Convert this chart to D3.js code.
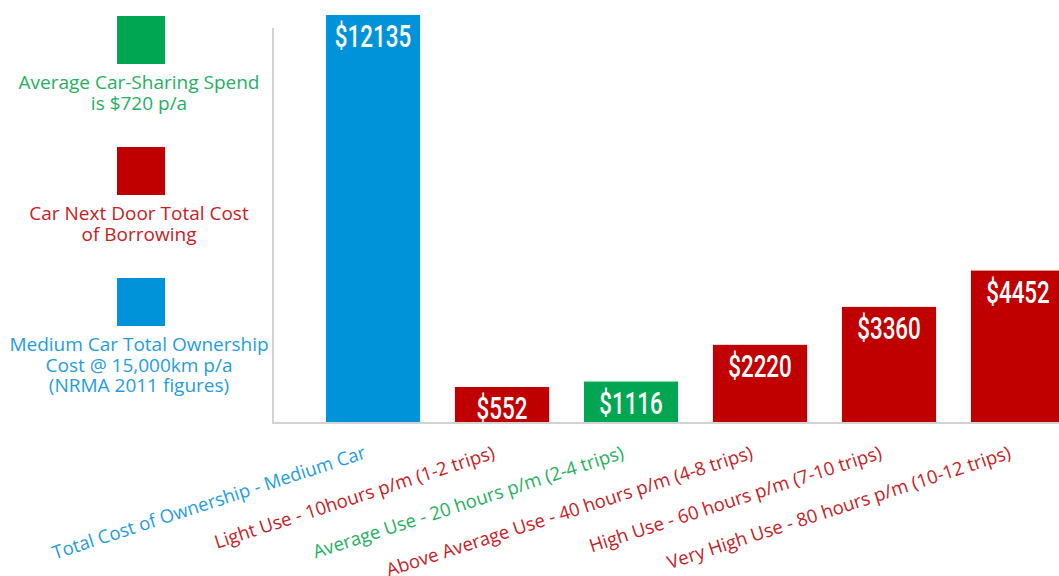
<!DOCTYPE html>
<html>
<head>
<meta charset="utf-8">
<script src="https://cdn.jsdelivr.net/npm/d3@7"></script>
<style>
  html, body { margin: 0; padding: 0; background: #fff; }
  svg { display: block; }
</style>
</head>
<body>
<svg id="chart" width="1059" height="576"></svg>
<script>
// Annual cost per scenario (AUD)
const categories = [
  "Total Cost of Ownership - Medium Car",
  "Light Use - 10hours p/m (1-2 trips)",
  "Average Use - 20 hours p/m (2-4 trips)",
  "Above Average Use - 40 hours p/m (4-8 trips)",
  "High Use - 60 hours p/m (7-10 trips)",
  "Very High Use - 80 hours p/m (10-12 trips)"
];
const costs = [12135, 552, 1116, 2220, 3360, 4452];
const groups = ["own", "cnd", "avg", "cnd", "cnd", "cnd"];

// Legend entries, top to bottom
const legendKeys = ["avg", "cnd", "own"];
const legendLines = [
  ["Average Car-Sharing Spend", "is $720 p/a"],
  ["Car Next Door Total Cost", "of Borrowing"],
  ["Medium Car Total Ownership", "Cost @ 15,000km p/a", "(NRMA 2011 figures)"]
];

const fill = { own: "#0093da", cnd: "#c00000", avg: "#00a651" };
const ink  = { own: "#1f9de0", cnd: "#c9201f", avg: "#25b060" };

const svg = d3.select("#chart");

const x = d3.scaleBand()
  .domain(categories)
  .range([308.5, 1082.5])
  .paddingInner(0.27)
  .paddingOuter(0.135);

const y = d3.scaleLinear()
  .domain([-100, 12135])
  .range([422, 15]);

const base = y(-100);
const minBarHeight = 35; // keeps room for the value label on small bars

// axis lines
svg.append("line")
  .attr("x1", 273).attr("x2", 273)
  .attr("y1", 28).attr("y2", base + 2)
  .attr("stroke", "#d2d2d2").attr("stroke-width", 2);
svg.append("line")
  .attr("x1", 272).attr("x2", 1059)
  .attr("y1", base + 1).attr("y2", base + 1)
  .attr("stroke", "#d2d2d2").attr("stroke-width", 2);

const data = categories.map((c, i) => ({ c, v: costs[i], g: groups[i] }));
const barTop = d => Math.min(y(d.v), base - minBarHeight);

svg.append("g").selectAll("rect")
  .data(data)
  .join("rect")
  .attr("x", d => x(d.c))
  .attr("width", x.bandwidth())
  .attr("y", barTop)
  .attr("height", d => base - barTop(d))
  .attr("fill", d => fill[d.g]);

// value labels inside the top of each bar, condensed
svg.append("g").selectAll("g")
  .data(data)
  .join("g")
  .attr("transform", d => `translate(${x(d.c) + x.bandwidth() / 2},${barTop(d) + 32}) scale(0.7,1)`)
  .append("text")
  .attr("text-anchor", "middle")
  .attr("font-family", "Roboto, sans-serif")
  .attr("font-weight", 500)
  .attr("font-size", 32)
  .attr("fill", "#fff")
  .text(d => "$" + d.v);

// rotated category labels
svg.append("g").selectAll("text")
  .data(data)
  .join("text")
  .attr("transform", d => `translate(${x(d.c) + x.bandwidth() / 2 - 6},458) rotate(-18)`)
  .attr("text-anchor", "end")
  .attr("font-family", "'Open Sans', sans-serif")
  .attr("font-size", 18.5)
  .attr("fill", d => ink[d.g])
  .text(d => d.c);

// legend
const legendTop = [16, 147, 278];
const legend = svg.append("g").selectAll("g")
  .data(legendKeys)
  .join("g")
  .attr("transform", (k, i) => `translate(141,${legendTop[i]})`);

legend.append("rect")
  .attr("x", -24).attr("y", 0)
  .attr("width", 48).attr("height", 48)
  .attr("fill", k => fill[k]);

legend.append("text")
  .attr("text-anchor", "middle")
  .attr("font-family", "'Open Sans', sans-serif")
  .attr("font-size", 19)
  .attr("fill", k => ink[k])
  .selectAll("tspan")
  .data((k, i) => legendLines[i])
  .join("tspan")
  .attr("x", -2)
  .attr("y", (t, j) => 73 + j * 20.5)
  .text(t => t);
</script>
</body>
</html>
